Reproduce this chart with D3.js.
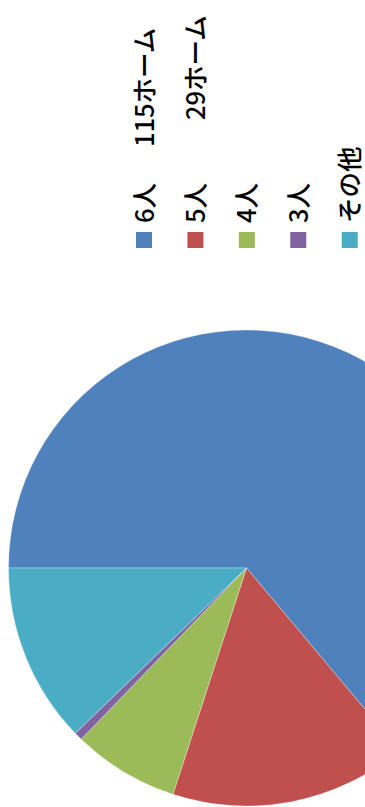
<!DOCTYPE html>
<html>
<head>
<meta charset="utf-8">
<script src="https://cdn.jsdelivr.net/npm/d3@7"></script>
<style>
  html, body { margin: 0; padding: 0; background: #fff; }
  svg { display: block; }
  text { font-family: "Noto Sans CJK JP", "Noto Sans", sans-serif; font-weight: 500; }
</style>
</head>
<body>
<svg id="chart" width="365" height="807"></svg>
<script>
// Household size categories and number of homes in each
const categories = ["6人", "5人", "4人", "3人", "その他"];
const homes = [115, 29, 13, 1, 22];
const colors = ["#4F81BD", "#C0504D", "#9BBB59", "#8064A2", "#4BACC6"];
// Extra legend text shown next to the first entries
const legendNotes = ["115ホーム", "29ホーム"];

const W = 807, H = 365; // layout drawn landscape, then turned a quarter
const svg = d3.select("#chart");
const g = svg.append("g").attr("transform", `translate(0,${W}) rotate(-90)`);

// Pie
const cx = 239, cy = 246.5, radius = 238;
const pie = d3.pie().sort(null).value(d => d.v);
const arc = d3.arc().innerRadius(0).outerRadius(radius);
const data = categories.map((c, i) => ({ c, v: homes[i], col: colors[i] }));

g.append("g")
  .attr("transform", `translate(${cx},${cy})`)
  .selectAll("path")
  .data(pie(data))
  .join("path")
  .attr("d", arc)
  .attr("fill", d => d.data.col)
  .attr("stroke", "#ffffff")
  .attr("stroke-opacity", 0.5)
  .attr("stroke-width", 0.6);

// Legend
const legendY = d3.scalePoint().domain(categories).range([136, 341.7]);
const lg = g.append("g");
const item = lg.selectAll("g")
  .data(data)
  .join("g")
  .attr("transform", d => `translate(559,${legendY(d.c)})`);
item.append("rect")
  .attr("width", 16).attr("height", 16)
  .attr("fill", d => d.col);
item.append("text")
  .attr("x", 25).attr("y", 6)
  .attr("dominant-baseline", "central")
  .attr("font-size", 25.5)
  .attr("fill", "#000")
  .text(d => d.c);

const noteX = [660, 687];
lg.selectAll("text.note")
  .data(legendNotes)
  .join("text")
  .attr("class", "note")
  .attr("x", (d, i) => noteX[i])
  .attr("y", (d, i) => legendY(categories[i]) + 6)
  .attr("dominant-baseline", "central")
  .attr("font-size", 25.5)
  .attr("fill", "#000")
  .text(d => d);
</script>
</body>
</html>
